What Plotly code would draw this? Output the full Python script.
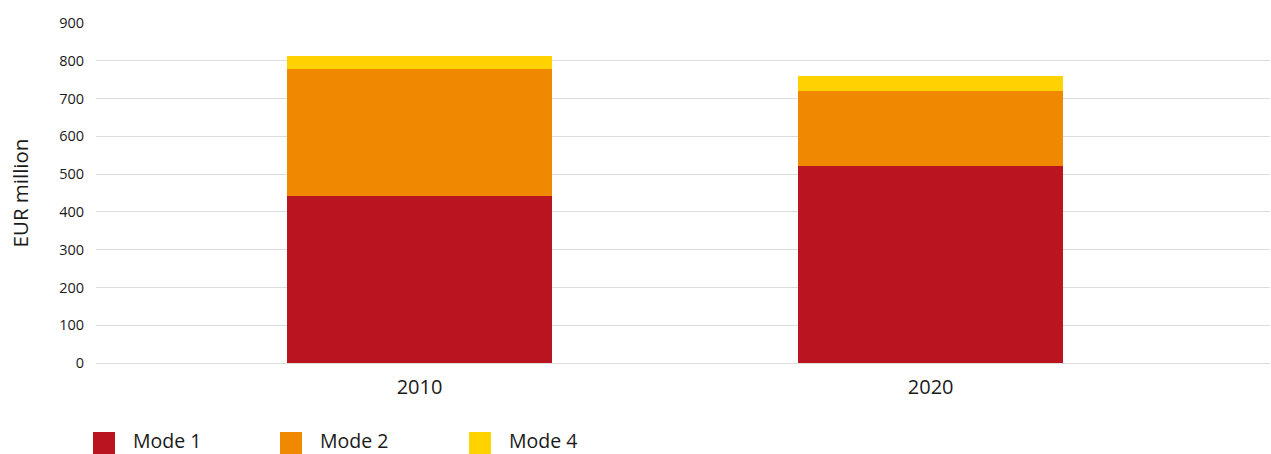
import plotly.graph_objects as go

# Data
years = ["2010", "2020"]
mode_1 = [441, 521]
mode_2 = [336, 198]
mode_4 = [35, 40]

series_names = ["Mode 1", "Mode 2", "Mode 4"]
series_values = [mode_1, mode_2, mode_4]
series_colors = ["#B9141F", "#F08800", "#FFD200"]

y_ticks = list(range(0, 901, 100))

W, H = 1271, 454
M_L, M_R, M_T, M_B = 96, 1, 23, 91
PLOT_W = W - M_L - M_R
PLOT_H = H - M_T - M_B
FONT = "Open Sans, Noto Sans, Arial, sans-serif"


def px_x(px):
    return (px - M_L) / PLOT_W


def px_y(py):
    return (H - M_B - py) / PLOT_H


fig = go.Figure()
for name, vals, col in zip(series_names, series_values, series_colors):
    fig.add_trace(go.Bar(
        x=years, y=vals, name=name, marker=dict(color=col, line=dict(width=0)),
        width=0.519, showlegend=False,
    ))

# Legend row: square swatch followed by label
shapes = []
annotations = []
swatch_left = [93, 280, 469]
for left, name, col in zip(swatch_left, series_names, series_colors):
    shapes.append(dict(
        type="rect", xref="paper", yref="paper",
        x0=px_x(left), x1=px_x(left + 22), y0=px_y(454), y1=px_y(432),
        fillcolor=col, line=dict(width=0), layer="above",
    ))
    annotations.append(dict(
        xref="paper", yref="paper", x=px_x(left + 39), y=px_y(440.5),
        xanchor="left", yanchor="middle", text=name, showarrow=False,
        borderpad=0, font=dict(family=FONT, size=19.5, color="#1a1a1a"),
    ))

fig.update_layout(
    width=W, height=H,
    margin=dict(l=M_L, r=M_R, t=M_T, b=M_B, autoexpand=False),
    barmode="stack",
    plot_bgcolor="white", paper_bgcolor="white",
    font=dict(family=FONT, color="#1a1a1a"),
    xaxis=dict(
        type="category", range=[-0.633, 1.664], showgrid=False, showline=False,
        zeroline=False, ticks="", tickfont=dict(size=20, color="#1a1a1a"),
        ticklabelstandoff=10,
    ),
    yaxis=dict(
        range=[0, 900], tickvals=y_ticks, showgrid=True, gridcolor="#dcdcdc",
        gridwidth=1.3, zeroline=True, zerolinecolor="#dcdcdc", zerolinewidth=1.3,
        showline=False, ticks="", tickfont=dict(size=14.5, color="#1a1a1a"),
        ticklabelstandoff=11,
        title=dict(text="EUR million", font=dict(size=20.5, color="#1a1a1a"), standoff=24),
    ),
    shapes=shapes,
    annotations=annotations,
)

fig.write_html("out.html")
